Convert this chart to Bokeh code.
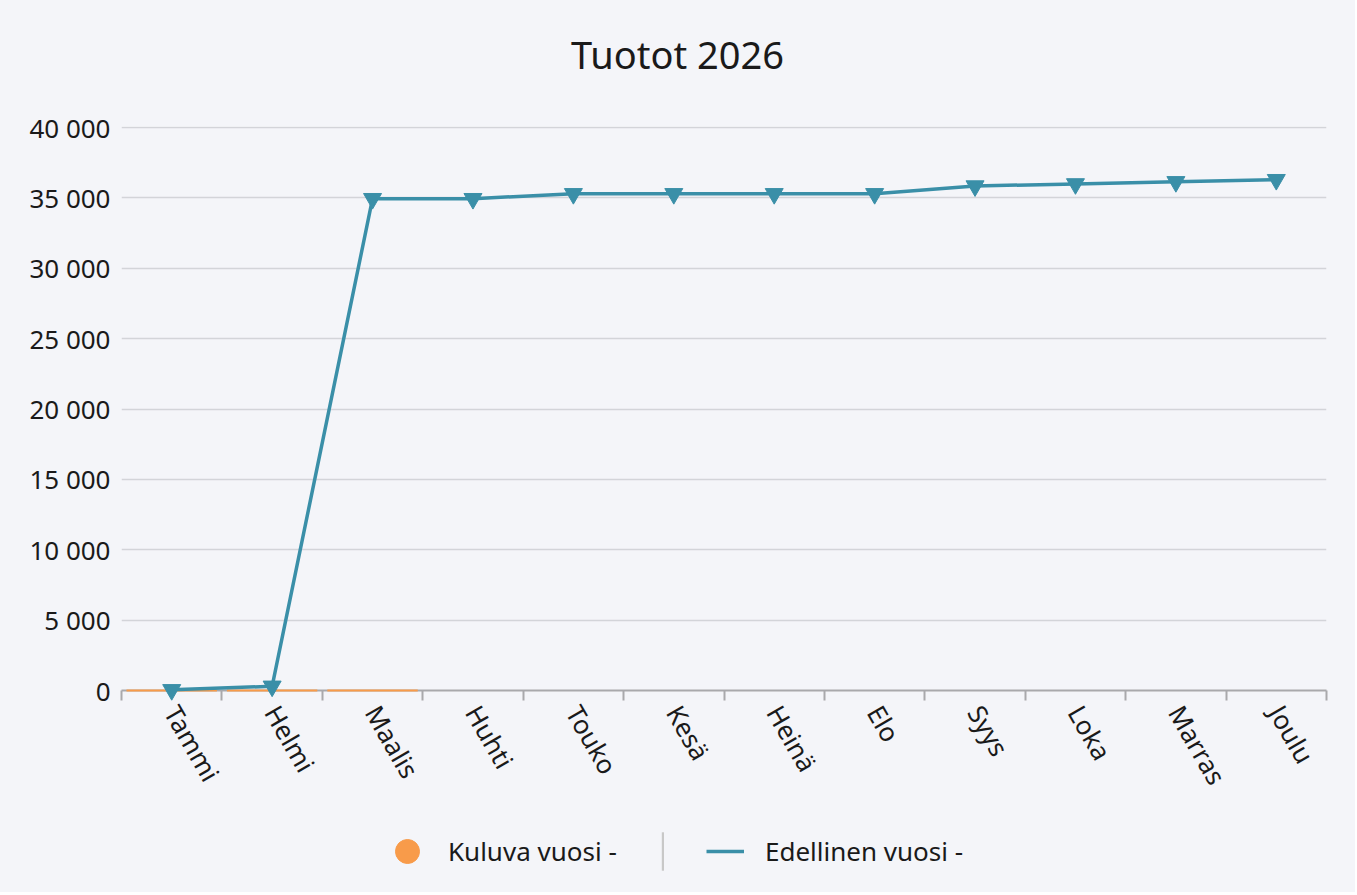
import math
from bokeh.plotting import figure
from bokeh.layouts import column
from bokeh.models import (Range1d, FixedTicker, Legend, LegendItem, ColumnDataSource, Label)
from bokeh.embed import file_html
from bokeh.resources import INLINE

# ---- data ----
title_text = "Tuotot 2026"
months = ["Tammi", "Helmi", "Maalis", "Huhti", "Touko", "Kesä",
          "Heinä", "Elo", "Syys", "Loka", "Marras", "Joulu"]
prev_year = [50, 300, 34950, 34950, 35300, 35300, 35300, 35300,
             35850, 36000, 36150, 36300]
current_months = ["Tammi", "Helmi", "Maalis"]
current_year = [0, 0, 0]
y_ticks = [0, 5000, 10000, 15000, 20000, 25000, 30000, 35000, 40000]
y_tick_labels = ["0", "5 000", "10 000", "15 000", "20 000",
                 "25 000", "30 000", "35 000", "40 000"]
series_names = ["Kuluva vuosi -", "Edellinen vuosi -"]

# ---- styling ----
FONT = "Noto Sans"
BG = "#f4f5f9"
TEAL = "#3a8fa8"
ORANGE = "#f89b4a"
TEXT = "#1a1a1a"
NAN = float("nan")
W = 1355


def strip(height):
    f = figure(width=W, height=height, output_backend="svg", toolbar_location=None,
               x_range=Range1d(0, 1), y_range=Range1d(0, 100), min_border=0,
               x_axis_location=None, y_axis_location=None)
    f.background_fill_color = BG
    f.border_fill_color = BG
    f.outline_line_color = None
    f.xgrid.visible = False
    f.ygrid.visible = False
    return f


# ---- title strip ----
tf = strip(100)
tf.add_layout(Label(x=0.4614, y=47, text=title_text, text_align="center",
                    text_baseline="alphabetic", text_font=FONT,
                    text_font_size="38px", text_color=TEXT))

# ---- main chart ----
pos = {m: i + 0.5 for i, m in enumerate(months)}

p = figure(width=W, height=712, output_backend="svg", toolbar_location=None,
           x_range=Range1d(0, len(months)), y_range=Range1d(0, 40080),
           min_border_left=121, min_border_right=29, min_border_top=26,
           min_border_bottom=122)
p.background_fill_color = BG
p.border_fill_color = BG
p.outline_line_color = None

# grid
p.xgrid.visible = False
p.ygrid.grid_line_color = "#d3d4d9"
p.ygrid.grid_line_width = 1.5
p.ygrid.ticker = FixedTicker(ticks=y_ticks)

# y axis
p.yaxis.ticker = FixedTicker(ticks=y_ticks)
p.yaxis.major_label_overrides = dict(zip(y_ticks, y_tick_labels))
p.yaxis.axis_line_color = None
p.yaxis.major_tick_line_color = None
p.yaxis.minor_tick_line_color = None
p.yaxis.major_label_standoff = 5
p.yaxis.major_label_text_font = FONT
p.yaxis.major_label_text_font_size = "26px"
p.yaxis.major_label_text_color = TEXT

# x axis
p.xaxis.ticker = FixedTicker(ticks=[pos[m] for m in months],
                             minor_ticks=list(range(len(months) + 1)))
p.xaxis.major_label_overrides = {pos[m]: m for m in months}
p.xaxis.axis_line_color = "#a9a9ac"
p.xaxis.axis_line_width = 2
p.xaxis.major_tick_line_color = None
p.xaxis.minor_tick_line_color = "#a9a9ac"
p.xaxis.minor_tick_line_width = 2
p.xaxis.minor_tick_in = 0
p.xaxis.minor_tick_out = 10
p.xaxis.major_label_orientation = -math.pi / 3
p.xaxis.major_label_standoff = 7
p.xaxis.major_label_text_font = FONT
p.xaxis.major_label_text_font_size = "26px"
p.xaxis.major_label_text_color = TEXT

# current year (zero bars)
cur_src = ColumnDataSource(dict(x=[pos[m] for m in current_months], top=current_year))
p.vbar(x="x", top="top", bottom=0, width=0.9, source=cur_src,
       fill_color=ORANGE, line_color=ORANGE, line_width=2, level="overlay")

# previous year line
prev_src = ColumnDataSource(dict(x=[pos[m] for m in months], y=prev_year))
p.line("x", "y", source=prev_src, line_color=TEAL, line_width=3.5, level="overlay")
p.scatter("x", "y", source=prev_src, marker="inverted_triangle", size=18,
          fill_color=TEAL, line_color=TEAL, level="overlay")

# ---- legend strip ----
lg = strip(80)
leg_cur = lg.scatter(x=[NAN], y=[NAN], marker="circle", fill_color=ORANGE,
                     line_color=ORANGE)
leg_sep = lg.quad(left=[NAN], right=[NAN], top=[NAN], bottom=[NAN],
                  fill_color="#c8c8c8", line_color=None)
leg_prev = lg.line(x=[NAN], y=[NAN], line_color=TEAL, line_width=3.5)

common = dict(orientation="horizontal", padding=0, margin=0, spacing=0,
              background_fill_alpha=0, border_line_color=None,
              label_text_font=FONT, label_text_font_size="26px",
              label_text_color=TEXT)

leg_a = Legend(items=[LegendItem(label=series_names[0], renderers=[leg_cur])],
               location=(256, 11), glyph_width=60, glyph_height=60,
               label_standoff=11, **common)
leg_b = Legend(items=[LegendItem(label="", renderers=[leg_sep])],
               location=(540, 17), glyph_width=3, glyph_height=48,
               label_standoff=0, **common)
leg_c = Legend(items=[LegendItem(label=series_names[1], renderers=[leg_prev])],
               location=(585, 21), glyph_width=38, glyph_height=40,
               label_standoff=21, **common)
for item in (leg_a, leg_b, leg_c):
    lg.add_layout(item, "center")

layout = column(tf, p, lg, spacing=0, styles={"background-color": BG})
open("out.html", "w").write(file_html(layout, INLINE))
